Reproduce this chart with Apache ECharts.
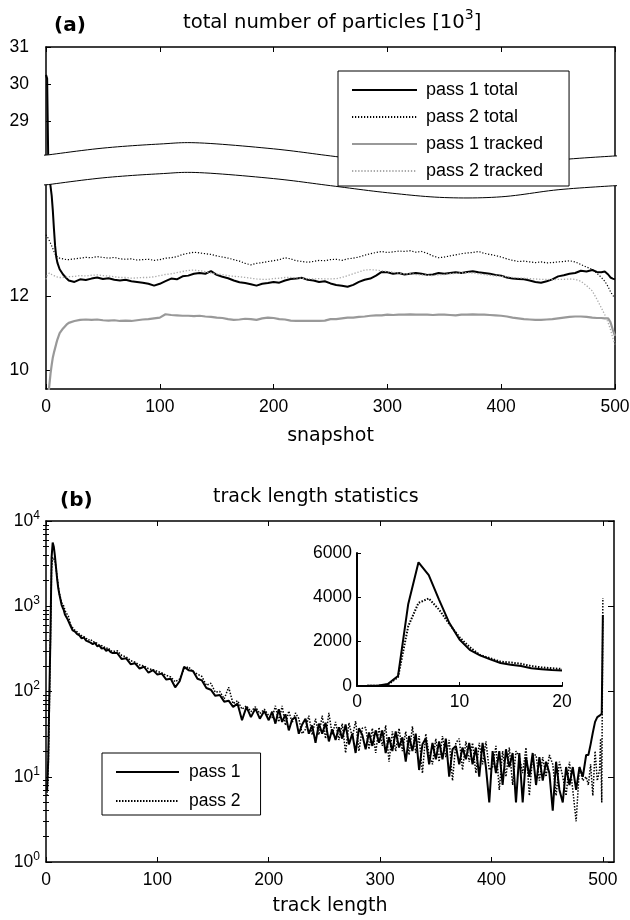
<!DOCTYPE html>
<html><head><meta charset="utf-8">
<script src="https://cdn.jsdelivr.net/npm/echarts@6/dist/echarts.min.js"></script>
<style>html,body{margin:0;padding:0;background:#fff}#c{width:630px;height:920px}</style>
</head><body><div id="c"></div>
<script>
// ---------- Panel (a): total number of particles [10^3] ----------
const snapshotsA = [0,1,2,3,4,5,6,7,8,9,10,12,15,18,20,
 25,30,35,40,45,50,55,60,65,70,75,80,85,90,95,100,
 105,110,115,120,125,130,135,140,145,150,155,160,165,170,175,180,185,190,195,200,
 205,210,215,220,225,230,235,240,245,250,255,260,265,270,275,280,285,290,295,300,
 305,310,315,320,325,330,335,340,345,350,355,360,365,370,375,380,385,390,395,400,
 405,410,415,420,425,430,435,440,445,450,455,460,465,470,475,480,
 484,488,491,494,496,498,500];
const pass1TotalA = [30.25,30.15,15.6,15.2,14.95,14.7,14.3,13.8,13.35,13.05,12.9,12.72,12.58,12.48,12.42,
 12.38,12.45,12.43,12.47,12.5,12.46,12.48,12.44,12.42,12.44,12.4,12.38,12.36,12.33,12.28,12.33,
 12.4,12.47,12.45,12.53,12.55,12.6,12.62,12.6,12.67,12.57,12.52,12.48,12.42,12.37,12.35,12.32,12.28,12.33,12.35,12.38,
 12.36,12.42,12.46,12.47,12.49,12.44,12.42,12.38,12.4,12.34,12.3,12.28,12.25,12.3,12.38,12.44,12.47,12.55,12.65,12.64,
 12.6,12.62,12.58,12.6,12.62,12.6,12.57,12.58,12.62,12.6,12.62,12.64,12.62,12.65,12.67,12.64,12.62,12.6,12.57,12.55,
 12.5,12.47,12.46,12.45,12.42,12.38,12.36,12.4,12.45,12.53,12.56,12.6,12.62,12.68,12.66,12.7,
 12.65,12.64,12.66,12.58,12.5,12.47,12.45];
const pass2TotalA = [13.65,13.6,13.55,13.5,13.42,13.35,13.28,13.2,13.13,13.08,13.05,13.02,13.0,12.98,12.98,
 13.0,13.02,13.04,13.03,13.06,13.04,13.02,13.04,13.0,12.99,13.0,12.97,12.98,12.99,12.96,12.98,
 13.02,13.03,13.06,13.12,13.15,13.18,13.16,13.14,13.12,13.08,13.05,13.02,12.98,12.94,12.88,12.84,12.88,12.9,12.93,12.95,
 12.98,13.03,13.0,12.95,12.93,12.91,12.93,12.96,12.95,12.98,12.99,12.96,13.0,13.02,13.05,13.1,13.14,13.17,13.2,13.17,
 13.19,13.21,13.2,13.22,13.18,13.2,13.15,13.08,13.03,13.05,13.08,13.11,13.14,13.16,13.17,13.2,13.15,13.12,13.09,13.05,
 13.0,12.96,12.93,12.94,12.92,12.9,12.92,12.89,12.9,12.92,12.93,12.95,12.92,12.85,12.78,12.72,
 12.62,12.5,12.4,12.25,12.12,12.02,11.95];
const pass1TrackedA = [8.0,8.7,9.3,9.62,9.92,10.15,10.35,10.48,10.6,10.72,10.83,11.0,11.13,11.23,11.28,
 11.33,11.36,11.37,11.36,11.37,11.35,11.34,11.35,11.33,11.34,11.33,11.35,11.37,11.38,11.4,11.42,
 11.51,11.49,11.48,11.47,11.47,11.46,11.47,11.45,11.44,11.42,11.41,11.38,11.36,11.37,11.39,11.38,11.36,11.4,11.42,11.41,
 11.38,11.37,11.34,11.33,11.33,11.33,11.33,11.33,11.34,11.38,11.38,11.4,11.42,11.42,11.44,11.45,11.47,11.48,11.48,11.5,
 11.49,11.5,11.5,11.51,11.5,11.5,11.5,11.49,11.5,11.5,11.49,11.48,11.5,11.5,11.51,11.5,11.5,11.49,11.48,11.47,
 11.45,11.42,11.4,11.38,11.37,11.36,11.36,11.37,11.38,11.4,11.42,11.44,11.45,11.45,11.44,11.42,
 11.41,11.41,11.4,11.4,11.3,11.1,10.93];
const pass2TrackedA = [12.45,12.55,12.6,12.62,12.6,12.58,12.56,12.55,12.53,12.52,12.52,12.5,12.5,12.52,12.52,
 12.53,12.55,12.54,12.56,12.57,12.55,12.54,12.52,12.5,12.5,12.48,12.49,12.5,12.5,12.52,12.55,
 12.58,12.6,12.63,12.66,12.69,12.7,12.68,12.66,12.62,12.6,12.58,12.55,12.53,12.52,12.5,12.48,12.46,12.45,12.45,12.47,
 12.48,12.5,12.5,12.49,12.48,12.46,12.46,12.47,12.46,12.46,12.47,12.5,12.55,12.6,12.65,12.7,12.71,12.7,12.68,12.66,
 12.64,12.62,12.6,12.6,12.58,12.57,12.56,12.55,12.57,12.58,12.6,12.61,12.62,12.63,12.62,12.6,12.58,12.56,12.54,12.53,
 12.52,12.5,12.49,12.48,12.47,12.46,12.45,12.45,12.44,12.45,12.45,12.46,12.45,12.4,12.28,12.14,
 11.92,11.68,11.5,11.28,11.1,10.88,10.7];
const xTicksA = [0,100,200,300,400,500];
const yTicksA = [10,12,29,30,31];
// broken y axis: values above the break are shifted down by BREAK_OFFSET
const BREAK_SPLIT = 20, BREAK_OFFSET = 12.3;
// decorative break band (top edge, in shifted axis units) and its thickness
const breakWaveX = [0,50,100,135,200,250,300,350,400,450,500];
const breakWaveTop = [15.79,15.98,16.09,16.12,15.96,15.77,15.58,15.45,15.47,15.66,15.77];
const BREAK_WIDTH = 0.8;

// ---------- Panel (b): track length statistics ----------
const trackLen = [1,2,3,4,5,6,7,8,9,10,11,12,13,14,15,16,17,18,19,20,
 22,24,26,28,30,32,34,36,38,40,42,44,46,48,50,52,54,56,58,60,
 64,68,72,76,80,84,88,92,96,100,104,108,112,116,120,124,128,132,136,140,144,148,152,156,160,164,168,172,176,180,184,188,192,196,200,
 203,206,209,212,215,218,221,224,227,230,
 233,236,239,242,245,248,251,254,257,260,
 263,266,269,272,275,278,281,284,287,290,
 293,296,299,302,305,308,311,314,317,320,
 323,326,329,332,335,338,341,344,347,350,
 353,356,359,362,365,368,371,374,377,380,
 383,386,389,392,395,398,401,404,407,410,
 413,416,419,422,425,428,431,434,437,440,
 443,446,449,452,455,458,461,464,467,470,
 473,476,479,482,485,
 487,489,491,493,495,497,498,499,500];
const pass1Count = [7,16,90,450,3700,5580,5000,3900,2850,2100,1630,1380,1200,1040,960,900,800,760,720,700,
 590,520,505,470,455,420,430,395,385,375,360,372,340,345,318,325,300,310,290,282,
 282,240,245,209,214,186,195,166,178,158,162,138,141,112,132,195,178,174,141,135,110,105,89,91,76,78,66,72,46,66,50,63,48,59,46,
 58,42,62,44,54,35,47,50,32,41,
 48,32,40,25,42,32,43,26,36,27,
 38,28,41,24,32,19,37,31,21,33,
 23,35,25,35,19,29,20,34,22,29,
 15,30,20,32,12,24,28,14,25,16,
 26,16,28,10,21,23,14,22,16,25,
 14,22,10,25,13,5,20,11,20,8,
 21,13,19,5,19,5,17,10,19,8,
 17,9,15,11,4,15,7,5,13,8,
 13,7,13,10,18,
 18,24,33,44,50,52,54,55,790];
const pass2Count = [6,12,60,400,2700,3750,3950,3450,2800,2200,1750,1400,1250,1100,1060,1000,900,840,800,770,
 610,560,520,500,470,450,440,420,400,410,385,380,365,350,345,335,320,325,300,295,
 300,265,255,230,220,205,200,185,180,172,165,155,148,130,140,185,195,170,160,150,118,125,98,100,82,112,72,78,62,68,58,66,55,62,52,
 49,68,44,68,40,59,43,56,48,32,
 36,52,31,48,31,52,28,56,31,44,
 27,42,19,43,29,45,20,37,38,21,
 37,19,38,23,40,15,34,20,37,20,
 34,18,39,19,30,11,32,18,14,28,
 15,30,17,27,9,25,28,12,26,15,
 25,11,25,14,26,12,13,23,7,20,
 10,22,8,20,17,11,22,6,18,18,
 9,17,10,18,14,6,15,10,6,15,
 7,3,13,9,10,
 8,14,6,20,9,12,28,5,1250];
const xTicksB = [0,100,200,300,400,500];
const INSET_MAX_X = 20;

[[snapshotsA,pass1TotalA],[snapshotsA,pass2TotalA],[snapshotsA,pass1TrackedA],[snapshotsA,pass2TrackedA],[trackLen,pass1Count],[trackLen,pass2Count]].forEach(function(p,i){
  if (p[0].length !== p[1].length) throw new Error('length mismatch ' + i + ': ' + p[0].length + ' vs ' + p[1].length);
});

function toDisp(v){ return v > BREAK_SPLIT ? v - BREAK_OFFSET : v; }
function pairs(xs, ys, f){ return xs.map(function(x,i){ return [x, f ? f(ys[i]) : ys[i]]; }); }
function sampleCR(pts, n){
  const out = [];
  for (let i = 0; i < pts.length - 1; i++) {
    const p0 = pts[Math.max(i-1,0)], p1 = pts[i], p2 = pts[i+1], p3 = pts[Math.min(i+2,pts.length-1)];
    for (let k = 0; k < n; k++) {
      const t = k/n, t2 = t*t, t3 = t2*t;
      const f = function(a,b,c,d){ return 0.5*((2*b)+(-a+c)*t+(2*a-5*b+4*c-d)*t2+(-a+3*b-3*c+d)*t3); };
      out.push([f(p0[0],p1[0],p2[0],p3[0]), f(p0[1],p1[1],p2[1],p3[1])]);
    }
  }
  out.push(pts[pts.length-1].slice());
  return out;
}

const FONT = 'Liberation Sans, Arial, Helvetica, sans-serif';
const TFONT = 'DejaVu Sans, sans-serif';
const LBL = 17.5;
const black = '#000';
const minorExps = [];
for (let e = 0; e < 4; e++) for (let k = 2; k <= 9; k++) minorExps.push(e + Math.log10(k));

function axisLineS(w){ return {show:true, onZero:false, lineStyle:{color:black, width:w||1.3}}; }
function ticks(len, custom){ const t = {show:true, inside:true, length:len, lineStyle:{color:black, width:1}}; if (custom) t.customValues = custom; return t; }
const noLabel = {show:false};
const noSplit = {show:false};
const plainNum = function(v){ return String(v); };
const supRich = {
  b:{fontSize:LBL, fontFamily:FONT, color:black},
  s:{fontSize:12, fontFamily:FONT, color:black, padding:[0,0,11,0]}
};

const chart = echarts.init(document.getElementById('c'), null, {renderer:'canvas'});
const Y_MIN_A = 9.5, Y_MAX_A = toDisp(31);

function lineSeries(name, xi, yi, data, color, width, dash){
  const ls = {color:color, width:width};
  if (dash) ls.type = dash;
  return {name:name, type:'line', xAxisIndex:xi, yAxisIndex:yi, symbol:'none', showSymbol:false, z:2,
          data:data, lineStyle:ls, itemStyle:{color:color}};
}
const legendCommon = {orient:'vertical', borderColor:black, borderWidth:1, borderRadius:0, backgroundColor:'#fff',
  z:10, selectedMode:false, itemStyle:{opacity:0, borderWidth:0}};

const option = {
  animation:false,
  backgroundColor:'#fff',
  textStyle:{fontFamily:FONT},
  grid:[
    {left:46, top:47, width:569, height:342, outerBoundsMode:'none'},
    {left:46, top:521, width:568, height:341, outerBoundsMode:'none'},
    {left:357, top:553, width:205, height:133, outerBoundsMode:'none'}
  ],
  xAxis:[
    {gridIndex:0, type:'value', position:'bottom', min:0, max:500, interval:100,
     axisLine:axisLineS(1.5), axisTick:ticks(5, xTicksA), splitLine:noSplit,
     axisLabel:{customValues:xTicksA, fontSize:LBL, color:black, margin:9, fontFamily:FONT, formatter:plainNum},
     name:'snapshot', nameLocation:'middle', nameGap:38,
     nameTextStyle:{fontSize:19, fontFamily:TFONT, color:black}},
    {gridIndex:0, type:'value', position:'top', min:0, max:500, interval:100,
     axisLine:axisLineS(1.5), axisTick:ticks(5, xTicksA), axisLabel:noLabel, splitLine:noSplit},
    {gridIndex:1, type:'value', position:'bottom', min:0, max:510,
     axisLine:axisLineS(1.5), axisTick:ticks(5, xTicksB), splitLine:noSplit,
     axisLabel:{customValues:xTicksB, fontSize:LBL, color:black, margin:9, fontFamily:FONT, formatter:plainNum},
     name:'track length', nameLocation:'middle', nameGap:35,
     nameTextStyle:{fontSize:19, fontFamily:TFONT, color:black}},
    {gridIndex:1, type:'value', position:'top', min:0, max:510,
     axisLine:axisLineS(1.5), axisTick:ticks(5, xTicksB), axisLabel:noLabel, splitLine:noSplit},
    {gridIndex:2, type:'value', position:'bottom', min:0, max:INSET_MAX_X, interval:10,
     axisLine:axisLineS(2), axisTick:ticks(4), splitLine:noSplit,
     axisLabel:{fontSize:LBL, color:black, margin:7, fontFamily:FONT, formatter:plainNum}}
  ],
  yAxis:[
    {gridIndex:0, type:'value', position:'left', min:Y_MIN_A, max:Y_MAX_A,
     axisLine:axisLineS(1.5), axisTick:ticks(5, yTicksA.map(toDisp)), splitLine:noSplit,
     axisLabel:{customValues:yTicksA.map(toDisp), fontSize:LBL, color:black, margin:17, fontFamily:FONT,
       formatter:function(v){ return String(Math.round(v > 16 ? v + BREAK_OFFSET : v)); }}},
    {gridIndex:0, type:'value', position:'right', min:Y_MIN_A, max:Y_MAX_A,
     axisLine:axisLineS(1.5), axisTick:{show:false}, axisLabel:noLabel, splitLine:noSplit},
    {gridIndex:1, type:'log', logBase:10, position:'left', min:1, max:10000,
     axisLine:axisLineS(1.5), axisTick:ticks(6), splitLine:noSplit, minorTick:{show:false},
     axisLabel:{fontSize:LBL, color:black, margin:6, rich:supRich,
       formatter:function(v){ return '{b|10}{s|' + Math.round(Math.log10(v)) + '}'; }}},
    {gridIndex:1, type:'log', logBase:10, position:'right', min:1, max:10000,
     axisLine:axisLineS(1.5), axisTick:ticks(6), axisLabel:noLabel, splitLine:noSplit},
    {gridIndex:1, type:'value', position:'left', min:0, max:4,
     axisLine:{show:false}, axisTick:ticks(3, minorExps), axisLabel:noLabel, splitLine:noSplit},
    {gridIndex:1, type:'value', position:'right', min:0, max:4,
     axisLine:{show:false}, axisTick:ticks(3, minorExps), axisLabel:noLabel, splitLine:noSplit},
    {gridIndex:2, type:'value', position:'left', min:0, max:6000, interval:2000,
     axisLine:axisLineS(2), axisTick:ticks(4), splitLine:noSplit,
     axisLabel:{fontSize:LBL, color:black, margin:5, fontFamily:FONT, formatter:plainNum}}
  ],
  legend:[
    Object.assign({}, legendCommon, {data:['pass 1 total','pass 2 total','pass 1 tracked','pass 2 tracked'],
     left:338, top:71, itemWidth:65, itemHeight:14, itemGap:9, padding:[10,26,6,13],
     textStyle:{fontSize:18, lineHeight:18, color:black, fontFamily:FONT, padding:[0,0,0,4]}}),
    Object.assign({}, legendCommon, {data:['pass 1','pass 2'],
     left:102, top:753, itemWidth:63, itemHeight:14, itemGap:11, padding:[10,20,5,13],
     textStyle:{fontSize:LBL, lineHeight:18, color:black, fontFamily:FONT, padding:[0,0,0,5]}})
  ],
  graphic:[
    {type:'text', x:54, y:26, style:{text:'(a)', fontSize:20, fontWeight:'bold', fontFamily:TFONT, fill:black, verticalAlign:'middle'}},
    {type:'text', x:183, y:23, style:{text:'total number of particles [10{s|3}]', fontSize:19.6, fontFamily:TFONT, fill:black, verticalAlign:'middle',
      rich:{s:{fontSize:14, fontFamily:TFONT, fill:black, padding:[0,0,16,0]}}}},
    {type:'text', x:60, y:501, style:{text:'(b)', fontSize:20, fontWeight:'bold', fontFamily:TFONT, fill:black, verticalAlign:'middle'}},
    {type:'text', x:213, y:497, style:{text:'track length statistics', fontSize:19, fontFamily:TFONT, fill:black, verticalAlign:'middle'}}
  ],
  series:[
    lineSeries('pass 1 total', 0, 0, pairs(snapshotsA, pass1TotalA, toDisp), black, 2),
    lineSeries('pass 2 total', 0, 0, pairs(snapshotsA, pass2TotalA, toDisp), black, 1.2, [1.2,1.8]),
    lineSeries('pass 1 tracked', 0, 0, pairs(snapshotsA, pass1TrackedA, toDisp), '#999999', 2.2),
    lineSeries('pass 2 tracked', 0, 0, pairs(snapshotsA, pass2TrackedA, toDisp), '#aaaaaa', 1.3, [1.3,1.8]),
    {type:'custom', xAxisIndex:0, yAxisIndex:0, z:3, silent:true, clip:false,
     data:[[0, breakWaveTop[0]]], encode:{x:0, y:1},
     renderItem:function(params, api){
       const top = breakWaveX.map(function(x,i){ return api.coord([x, breakWaveTop[i]]); });
       const bot = breakWaveX.map(function(x,i){ return api.coord([x, breakWaveTop[i] - BREAK_WIDTH]); });
       const ts = sampleCR(top, 12), bs = sampleCR(bot, 12);
       ts[0][0] -= 2; bs[0][0] -= 2; ts[ts.length-1][0] += 2; bs[bs.length-1][0] += 2;
       const poly = ts.concat(bs.slice().reverse());
       return {type:'group', children:[
         {type:'polygon', shape:{points:poly}, style:{fill:'#fff', stroke:null}},
         {type:'polyline', shape:{points:ts}, style:{stroke:black, lineWidth:1, fill:null}},
         {type:'polyline', shape:{points:bs}, style:{stroke:black, lineWidth:1, fill:null}}
       ]};
     }},
    lineSeries('pass 1', 2, 2, pairs(trackLen, pass1Count), black, 2),
    lineSeries('pass 2', 2, 2, pairs(trackLen, pass2Count), black, 1.5, [1.5,1.5]),
    lineSeries('pass 1', 4, 6, pairs(trackLen, pass1Count).filter(function(p){ return p[0] <= INSET_MAX_X; }), black, 2),
    lineSeries('pass 2', 4, 6, pairs(trackLen, pass2Count).filter(function(p){ return p[0] <= INSET_MAX_X; }), black, 2, [1.5,1.5])
  ]
};
chart.setOption(option);
</script>
</body></html>
